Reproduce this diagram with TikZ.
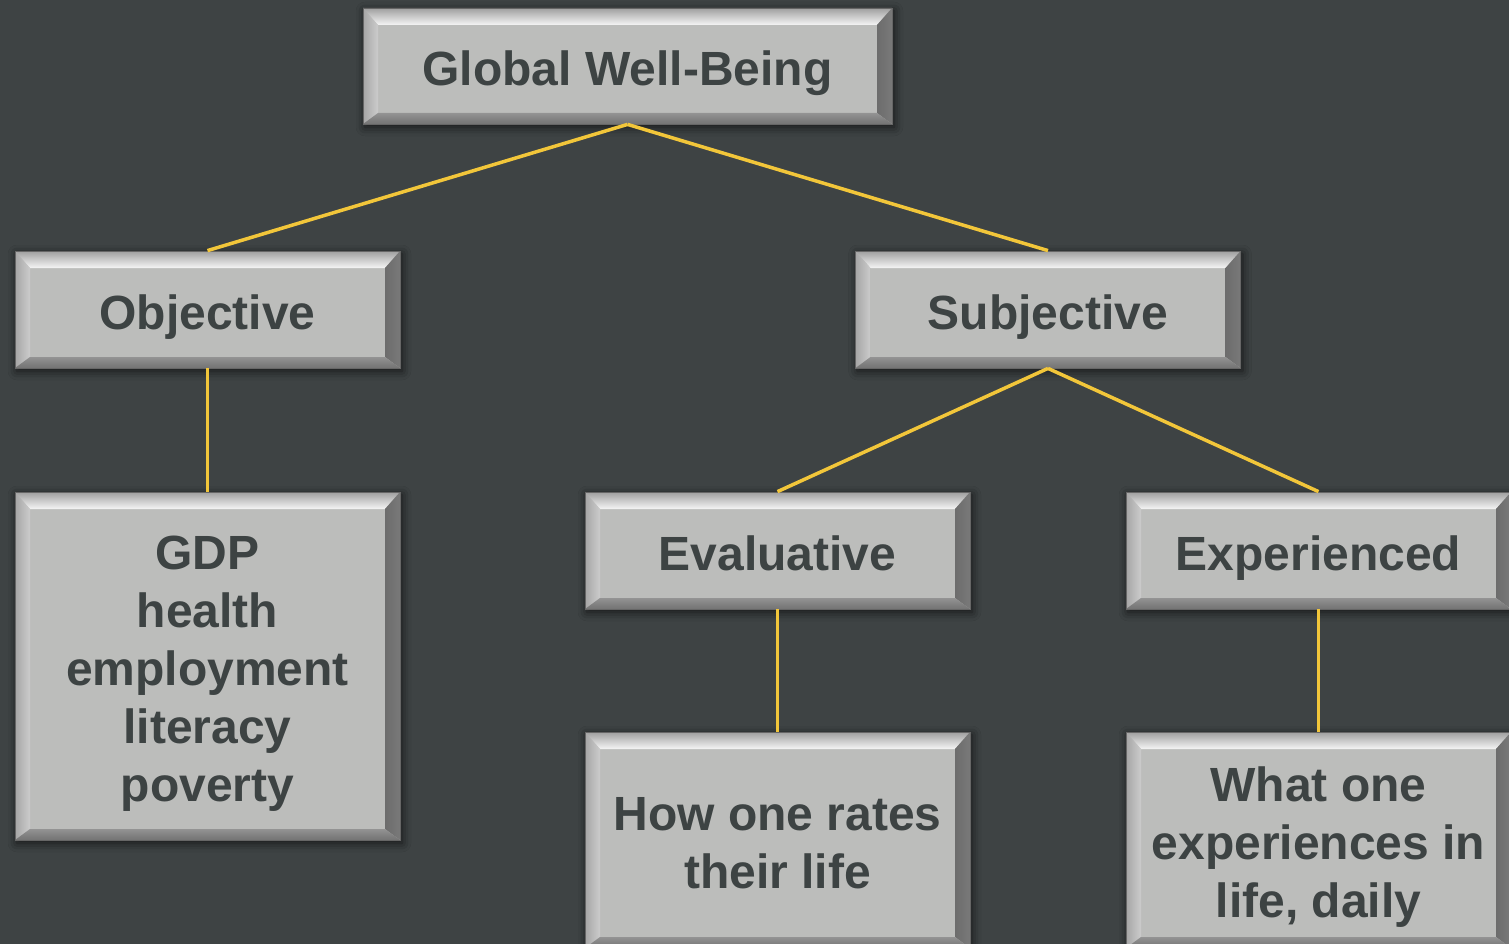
\documentclass[tikz,border=0pt]{standalone}
\usepackage{fontspec}
\setmainfont{Liberation Sans}
\usetikzlibrary{shadows.blur}

\definecolor{slate}{HTML}{3E4344}
\definecolor{ink}{HTML}{3D4343}
\definecolor{face}{HTML}{BCBDBB}
\definecolor{wire}{HTML}{F2C63A}

% bevelled rim drawn inside every box
\newcommand\bevelrim{%
  \coordinate (nw) at (path picture bounding box.north west);
  \coordinate (ne) at (path picture bounding box.north east);
  \coordinate (sw) at (path picture bounding box.south west);
  \coordinate (se) at (path picture bounding box.south east);
  \shade[top color=gray!75!white, bottom color=white!92!gray]
    (nw) -- (ne) -- ([shift={(-15pt,-17pt)}]ne) -- ([shift={(15pt,-17pt)}]nw) -- cycle;
  \shade[left color=gray!70!white, right color=gray!40!white]
    (nw) -- ([shift={(15pt,-17pt)}]nw) -- ([shift={(15pt,11pt)}]sw) -- (sw) -- cycle;
  \shade[left color=gray!85!black, right color=gray!95!black]
    (ne) -- ([shift={(-15pt,-17pt)}]ne) -- ([shift={(-15pt,11pt)}]se) -- (se) -- cycle;
  \shade[top color=gray!85!white, bottom color=gray!90!black]
    (sw) -- ([shift={(15pt,11pt)}]sw) -- ([shift={(-15pt,11pt)}]se) -- (se) -- cycle;
}

\begin{document}
\begin{tikzpicture}[x=1pt,y=-1pt,
  box/.style={fill=face, draw=gray!80!black, line width=0.8pt, text=ink,
    minimum width=385pt, minimum height=117pt, inner sep=0pt, align=center,
    font=\fontsize{48}{58}\selectfont\bfseries,
    text height=39pt, text depth=0pt,
    path picture={\bevelrim},
    blur shadow={shadow xshift=2pt, shadow yshift=-3pt,
      shadow blur radius=9pt, shadow opacity=70}},
  lines/.style={text height=#1*58pt-19pt},
  link/.style={wire, line width=3.5pt}]

\useasboundingbox[fill=slate] (0,0) rectangle (1509,944);

% top level
\node[box, minimum width=529pt, minimum height=116pt] (global) at (627.5,66) {Global Well-Being};

% second level
\node[box] (objective) at (207.5,309.5) {Objective};
\node[box] (subjective) at (1048,309.5) {Subjective};

% third level
\node[box, lines=5, minimum height=348pt] (measures) at (207.5,666)
  {GDP\\health\\employment\\literacy\\poverty};
\node[box] (evaluative) at (777.5,550.5) {Evaluative};
\node[box] (experienced) at (1318.5,550.5) {Experienced};

% leaves
\node[box, lines=2, minimum height=216pt] (rates) at (777.5,840) {How one rates\\their life};
\node[box, lines=3, minimum height=216pt] (daily) at (1318.5,840)
  {What one\\experiences in\\life, daily};

% links
\draw[link] (global.south) -- (objective.north);
\draw[link] (global.south) -- (subjective.north);
\draw[link] (objective.south) -- (measures.north);
\draw[link] (subjective.south) -- (evaluative.north);
\draw[link] (subjective.south) -- (experienced.north);
\draw[link] (evaluative.south) -- (rates.north);
\draw[link] (experienced.south) -- (daily.north);
\end{tikzpicture}
\end{document}
